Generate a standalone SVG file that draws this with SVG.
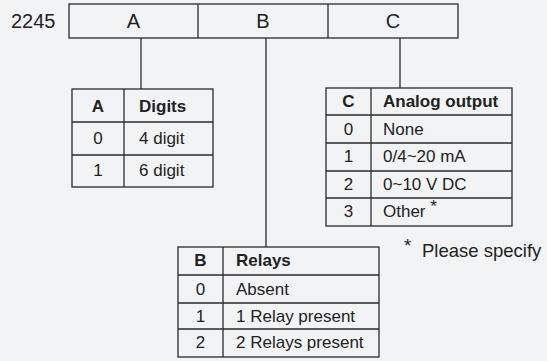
<svg xmlns="http://www.w3.org/2000/svg" width="547" height="361" viewBox="0 0 547 361">
<style>
.ln{stroke:#2a2a2a;stroke-width:1.3;fill:none}
.bx{stroke:#2a2a2a;stroke-width:1.3;fill:none}
text{font-family:"Liberation Sans",Arial,sans-serif;fill:#222}
.big{font-size:20px}
.t{font-size:17px}
.n{font-size:18.5px}
.h{font-size:17px;font-weight:bold}
.c{text-anchor:middle}
</style>
<rect width="547" height="361" fill="#f2f3f5"/>
<g id="code">
<text class="big" x="11" y="28">2245</text>
<rect class="bx" x="69" y="4" width="389" height="34"/>
<line class="ln" x1="198" y1="4" x2="198" y2="38"/>
<line class="ln" x1="328" y1="4" x2="328" y2="38"/>
<text class="big c" x="133.5" y="28">A</text>
<text class="big c" x="263" y="28">B</text>
<text class="big c" x="393" y="28">C</text>
</g>
<g id="connectors">
<line class="ln" x1="141" y1="38" x2="141" y2="89"/>
<line class="ln" x1="266" y1="38" x2="266" y2="247"/>
<line class="ln" x1="400" y1="38" x2="400" y2="88"/>
</g>
<g id="tableA">
<rect class="bx" x="72" y="89" width="141" height="98"/>
<line class="ln" x1="124" y1="89" x2="124" y2="187"/>
<line class="ln" x1="72" y1="122" x2="213" y2="122"/>
<line class="ln" x1="72" y1="155" x2="213" y2="155"/>
<text class="h c" x="98" y="112">A</text>
<text class="h" x="139" y="112">Digits</text>
<text class="t c" x="98" y="144">0</text>
<text class="t" x="139" y="144">4 digit</text>
<text class="t c" x="98" y="176">1</text>
<text class="t" x="139" y="176">6 digit</text>
</g>
<g id="tableC">
<rect class="bx" x="326" y="88" width="186" height="138"/>
<line class="ln" x1="371" y1="88" x2="371" y2="226"/>
<line class="ln" x1="326" y1="115" x2="512" y2="115"/>
<line class="ln" x1="326" y1="143" x2="512" y2="143"/>
<line class="ln" x1="326" y1="171" x2="512" y2="171"/>
<line class="ln" x1="326" y1="198" x2="512" y2="198"/>
<text class="h c" x="348.5" y="107">C</text>
<text class="h" x="383" y="107">Analog output</text>
<text class="t c" x="348.5" y="135">0</text>
<text class="t" x="383" y="135">None</text>
<text class="t c" x="348.5" y="162">1</text>
<text class="t" x="383" y="162">0/4~20 mA</text>
<text class="t c" x="348.5" y="190">2</text>
<text class="t" x="383" y="190">0~10 V DC</text>
<text class="t c" x="348.5" y="217">3</text>
<text class="t" x="383" y="217">Other <tspan font-size="17" dy="-5">*</tspan></text>
</g>
<g id="note">
<text class="n" x="404" y="252">*</text>
<text class="n" x="422" y="257">Please specify</text>
</g>
<g id="tableB">
<rect class="bx" x="178" y="247" width="201" height="110"/>
<line class="ln" x1="223" y1="247" x2="223" y2="357"/>
<line class="ln" x1="178" y1="275" x2="379" y2="275"/>
<line class="ln" x1="178" y1="303" x2="379" y2="303"/>
<line class="ln" x1="178" y1="329" x2="379" y2="329"/>
<text class="h c" x="200.5" y="266">B</text>
<text class="h" x="236" y="266">Relays</text>
<text class="t c" x="200.5" y="295">0</text>
<text class="t" x="236" y="295">Absent</text>
<text class="t c" x="200.5" y="322">1</text>
<text class="t" x="236" y="322">1 Relay present</text>
<text class="t c" x="200.5" y="348">2</text>
<text class="t" x="236" y="348">2 Relays present</text>
</g>
</svg>
